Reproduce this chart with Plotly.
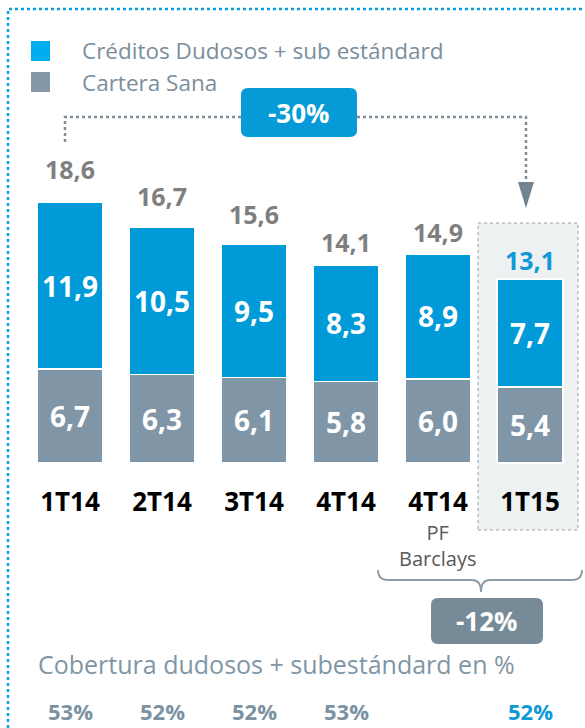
import plotly.graph_objects as go

# ---- data ----
categories = ["1T14", "2T14", "3T14", "4T14", "4T14", "1T15"]
dudosos = [11.9, 10.5, 9.5, 8.3, 8.9, 7.7]
sana = [6.7, 6.3, 6.1, 5.8, 6.0, 5.4]
totals = [18.6, 16.7, 15.6, 14.1, 14.9, 13.1]
cobertura = ["53%", "52%", "52%", "53%", "", "52%"]
legend_labels = ["Créditos Dudosos + sub estándard", "Cartera Sana"]
var_total = "-30%"
var_pf = "-12%"
sub_label = "PF<br>Barclays"
cob_title = "Cobertura dudosos + subestándard en %"

W, H = 585, 728
FONT = "Open Sans"
BLUE = "#009ad8"
LBLUE = "#00aeef"
GRAY = "#8096a7"


def X(px):
    return px / W


def Y(py):
    return 1 - py / H


# axis geometry (pixels)
base_px = 463.0
px_per_unit = 14.03
top_px = 90.0
bot_px = 484.0
y_min = -(bot_px - base_px) / px_per_unit
y_max = (base_px - top_px) / px_per_unit

fig = go.Figure()
xs = list(range(len(categories)))
for vals, name, col in [(sana, legend_labels[1], GRAY), (dudosos, legend_labels[0], BLUE)]:
    fig.add_trace(go.Bar(
        x=xs, y=vals, name=name, marker=dict(color=col, line=dict(color="white", width=1.5)),
        texttemplate="%{y:.1f}", textposition="inside", insidetextanchor="middle", textangle=0,
        textfont=dict(family=FONT, size=28, color="white", weight="bold"), width=0.72,
        hoverinfo="skip", showlegend=False))

annotations = []
shapes = []

# highlight box for last period
shapes.append(dict(type="rect", xref="paper", yref="paper", x0=X(478), x1=X(578), y0=Y(530), y1=Y(223),
                   fillcolor="#eef1f2", line=dict(color="#b7bec3", width=1.5, dash="dot"), layer="below"))

# totals
total_shift = [33, 33, 30, 23, 22, 19]
for i, t in enumerate(totals):
    col = "#0e9ad6" if i == len(totals) - 1 else "#7f7f7f"
    annotations.append(dict(x=i, y=t, xref="x", yref="y", text=f"{t:.1f}".replace(".", ","),
                            showarrow=False, yshift=total_shift[i], xanchor="center", yanchor="middle",
                            font=dict(family=FONT, size=25, color=col, weight="bold")))

# sub label under 5th category
annotations.append(dict(x=4, xref="x", y=Y(545), yref="paper", text=sub_label, showarrow=False,
                        xanchor="center", yanchor="middle", font=dict(family=FONT, size=20, color="#595959")))

# coverage row
annotations.append(dict(x=X(36), y=Y(664), xref="paper", yref="paper", text=cob_title, showarrow=False,
                        xanchor="left", yanchor="middle", font=dict(family=FONT, size=25, color="#8096a6")))
for i, c in enumerate(cobertura):
    if not c:
        continue
    col = "#0e9ad6" if i == len(cobertura) - 1 else "#7b92a2"
    annotations.append(dict(x=i, xref="x", y=Y(711), yref="paper", text=c, showarrow=False,
                            xanchor="center", yanchor="middle",
                            font=dict(family=FONT, size=22, color=col, weight="bold")))

# legend (manual)
for k, (lab, col) in enumerate(zip(legend_labels, [LBLUE, "#8498a9"])):
    y0 = 41 + k * 31
    shapes.append(dict(type="rect", xref="paper", yref="paper", x0=X(31), x1=X(50), y0=Y(y0 + 20), y1=Y(y0),
                       fillcolor=col, line=dict(width=0)))
    annotations.append(dict(x=X(80), y=Y(y0 + 10), xref="paper", yref="paper", text=lab, showarrow=False,
                            xanchor="left", yanchor="middle", font=dict(family=FONT, size=22.5, color="#7a8e9c")))


def rrect(x0, y0, x1, y1, r):
    pts = [
        f"M {X(x0 + r)},{Y(y0)}", f"L {X(x1 - r)},{Y(y0)}", f"Q {X(x1)},{Y(y0)} {X(x1)},{Y(y0 + r)}",
        f"L {X(x1)},{Y(y1 - r)}", f"Q {X(x1)},{Y(y1)} {X(x1 - r)},{Y(y1)}",
        f"L {X(x0 + r)},{Y(y1)}", f"Q {X(x0)},{Y(y1)} {X(x0)},{Y(y1 - r)}",
        f"L {X(x0)},{Y(y0 + r)}", f"Q {X(x0)},{Y(y0)} {X(x0 + r)},{Y(y0)}", "Z"]
    return " ".join(pts)


# -30% connector
CONN = "#7f8f99"
shapes.append(dict(type="path", xref="paper", yref="paper",
                   path=f"M {X(65)},{Y(142)} L {X(65)},{Y(117)} L {X(241)},{Y(117)}",
                   line=dict(color=CONN, width=2.5, dash="dot")))
shapes.append(dict(type="path", xref="paper", yref="paper",
                   path=f"M {X(357)},{Y(117)} L {X(526)},{Y(117)} L {X(526)},{Y(183)}",
                   line=dict(color=CONN, width=2.5, dash="dot")))
shapes.append(dict(type="path", xref="paper", yref="paper",
                   path=f"M {X(518)},{Y(182)} L {X(534)},{Y(182)} L {X(526)},{Y(208)} Z",
                   fillcolor="#72848f", line=dict(width=0)))
shapes.append(dict(type="path", xref="paper", yref="paper", path=rrect(241, 88, 357, 137, 7),
                   fillcolor="#069bd6", line=dict(width=0)))
annotations.append(dict(x=X(299), y=Y(113), xref="paper", yref="paper", text=var_total, showarrow=False,
                        xanchor="center", yanchor="middle",
                        font=dict(family=FONT, size=26, color="white", weight="bold")))

# brace and -12% box
BR = "#8c9ca6"
shapes.append(dict(type="path", xref="paper", yref="paper",
                   path=(f"M {X(378)},{Y(570)} Q {X(378)},{Y(580)} {X(388)},{Y(580)} L {X(472)},{Y(580)} "
                         f"Q {X(481)},{Y(580)} {X(481)},{Y(592)} Q {X(481)},{Y(580)} {X(490)},{Y(580)} "
                         f"L {X(572)},{Y(580)} Q {X(582)},{Y(580)} {X(582)},{Y(570)}"),
                   line=dict(color=BR, width=1.8)))
shapes.append(dict(type="path", xref="paper", yref="paper", path=rrect(431, 598, 543, 644, 7),
                   fillcolor="#768b97", line=dict(width=0)))
annotations.append(dict(x=X(487), y=Y(621), xref="paper", yref="paper", text=var_pf, showarrow=False,
                        xanchor="center", yanchor="middle",
                        font=dict(family=FONT, size=26, color="white", weight="bold")))

# outer dotted frame (clipped at right/bottom)
FR = "#0a9fe0"
shapes.append(dict(type="path", xref="paper", yref="paper",
                   path=f"M {X(8)},{Y(740)} L {X(8)},{Y(9)} L {X(600)},{Y(9)}",
                   line=dict(color=FR, width=2.5, dash="dot")))

fig.update_layout(
    width=W, height=H, margin=dict(l=0, r=0, t=0, b=0),
    paper_bgcolor="white", plot_bgcolor="rgba(0,0,0,0)",
    barmode="stack", bargap=0.28, separators=",.",
    showlegend=False,
    xaxis=dict(domain=[X(24), X(576)], range=[-0.5, 5.5], tickvals=xs, ticktext=categories,
               showgrid=False, zeroline=False, showline=False, ticks="",
               tickfont=dict(family=FONT, size=26, color="black", weight="bold")),
    yaxis=dict(domain=[Y(bot_px), Y(top_px)], range=[y_min, y_max], visible=False, showgrid=False),
    shapes=shapes, annotations=annotations,
)

fig.write_html("out.html", config={"displayModeBar": False},
               post_script="document.body.style.margin='0px';")
